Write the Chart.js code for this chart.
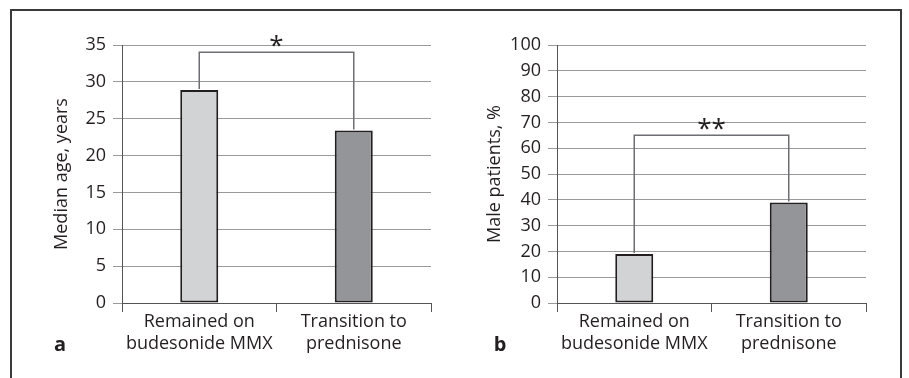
<!DOCTYPE html>
<html>
<head>
<meta charset="utf-8">
<script src="https://cdn.jsdelivr.net/npm/chart.js@4"></script>
<style>
  body { margin: 0; background: #fff; }
  #wrap { position: relative; width: 909px; height: 378px; overflow: hidden; }
  #frame { position: absolute; left: 10px; top: 9px; width: 892px; height: 420px; border: 2px solid #3a3a3a; box-sizing: border-box; }
  .panel { position: absolute; top: 0; height: 378px; }
  #pa { left: 0; width: 455px; }
  #pb { left: 455px; width: 454px; }
</style>
</head>
<body>
<div id="wrap">
  <div id="frame"></div>
  <div class="panel" id="pa"><canvas id="chartA"></canvas></div>
  <div class="panel" id="pb"><canvas id="chartB"></canvas></div>
</div>
<script>
// groups on the x axis
const categories = [['Remained on', 'budesonide MMX'], ['Transition to', 'prednisone']];
// panel a: median age (years)
const medianAge = [28.9, 23.4];
// panel b: male patients (%)
const malePct = [19, 39];
// y axis ranges
const ageMax = 35, ageStep = 5;
const pctMax = 100, pctStep = 10;
// significance brackets: level on the y axis and marker
const ageSig = { level: 34, mark: '*' };
const pctSig = { level: 65, mark: '**' };

const barFill = ['#d1d3d4', '#939598'];
const font = 'Open Sans';

// draws the significance bracket + star and the panel letter
const bracketPlugin = {
  id: 'bracket',
  afterDatasetsDraw(chart, args, opts) {
    const ctx = chart.ctx;
    const meta = chart.getDatasetMeta(0);
    const y = chart.scales.y;
    const top = y.getPixelForValue(opts.level);
    ctx.save();
    ctx.strokeStyle = '#6d6e71';
    ctx.lineWidth = 1.5;
    ctx.beginPath();
    const b0 = meta.data[0], b1 = meta.data[1];
    ctx.moveTo(b0.x, b0.y - 1);
    ctx.lineTo(b0.x, top);
    ctx.lineTo(b1.x, top);
    ctx.lineTo(b1.x, b1.y - 1);
    ctx.stroke();
    ctx.fillStyle = '#231f20';
    ctx.font = '26px "' + font + '"';
    ctx.textAlign = 'center';
    ctx.textBaseline = 'middle';
    ctx.fillText(opts.mark, (b0.x + b1.x) / 2, top - 6);
    ctx.font = 'bold 20px "' + font + '"';
    ctx.fillText(opts.letter, opts.letterX, 345);
    ctx.restore();
  }
};

function makeChart(id, values, yTitle, yMax, yStep, sig, letter, letterX, padLeft, chartLeft, padRight) {
  return new Chart(document.getElementById(id), {
    type: 'bar',
    data: {
      labels: categories,
      datasets: [{
        data: values,
        backgroundColor: barFill,
        borderColor: '#231f20',
        borderWidth: 2,
        borderSkipped: false,
        barPercentage: 0.246,
        categoryPercentage: 1
      }]
    },
    options: {
      responsive: true,
      maintainAspectRatio: false,
      animation: false,
      layout: { padding: { left: padLeft, top: 45, right: padRight, bottom: 0 } },
      plugins: {
        legend: { display: false },
        tooltip: { enabled: false },
        bracket: { level: sig.level, mark: sig.mark, letter: letter, letterX: letterX }
      },
      scales: {
        x: {
          afterFit: s => { s.height = 75; },
          grid: { offset: true, drawOnChartArea: false, tickLength: 9, color: '#555' },
          border: { color: '#555' },
          ticks: { color: '#231f20', padding: -1, font: { family: font, size: 18, lineHeight: 1.22 } }
        },
        y: {
          min: 0, max: yMax,
          afterFit: s => { s.width = chartLeft - padLeft; },
          grid: { color: '#9a9a9a', tickLength: 9 },
          border: { color: '#555' },
          ticks: { stepSize: yStep, color: '#231f20', padding: 7, font: { family: font, size: 18 } },
          title: { display: true, text: yTitle, color: '#231f20', padding: { top: 0, bottom: 0 }, font: { family: font, size: 18 } }
        }
      }
    },
    plugins: [bracketPlugin]
  });
}

makeChart('chartA', medianAge, 'Median age, years', ageMax, ageStep, ageSig, 'a', 60, 51, 122, 24);
makeChart('chartB', malePct, 'Male patients, %', pctMax, pctStep, pctSig, 'b', 45, 29, 102, 43);
</script>
</body>
</html>
